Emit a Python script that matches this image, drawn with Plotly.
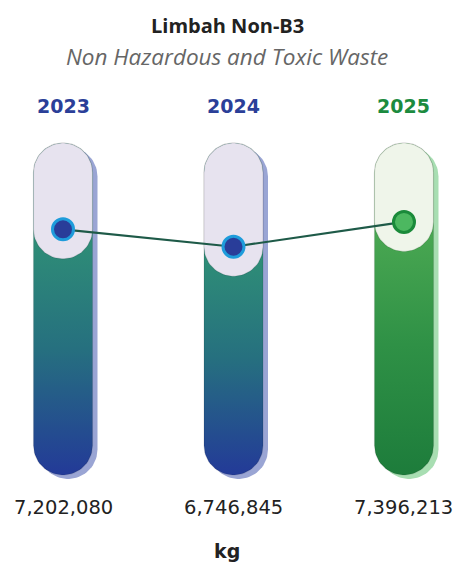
import numpy as np
import plotly.graph_objects as go

# ---------------- data ----------------
years = ["2023", "2024", "2025"]
values = [7202080, 6746845, 7396213]
year_colors = ["#2B3F98", "#2B3F98", "#1C8B3F"]
title = "Limbah Non-B3"
subtitle = "Non Hazardous and Toxic Waste"
unit = "kg"

# ---------------- layout geometry (pixels) ----------------
W, H = 454, 563
X_RANGE = [-0.3695, 2.2933]
Y_RANGE = [-1.5212e6, 13.1978e6]

def x2px(x):
    return (x - X_RANGE[0]) / (X_RANGE[1] - X_RANGE[0]) * W

def px2x(p):
    return X_RANGE[0] + np.asarray(p) / W * (X_RANGE[1] - X_RANGE[0])

def y2px(y):
    return (Y_RANGE[1] - y) / (Y_RANGE[1] - Y_RANGE[0]) * H

def px2y(p):
    return Y_RANGE[1] - np.asarray(p) / H * (Y_RANGE[1] - Y_RANGE[0])

R = 29.5          # capsule half width
TOP, BOT = 143, 475

def pill(cx, top, bot, r, n=40):
    """closed pill outline in pixel coords"""
    t1 = np.linspace(np.pi, 2 * np.pi, n)   # top arc (left -> right)
    xs_top = cx + r * np.cos(t1)
    ys_top = top + r + r * np.sin(t1)
    t2 = np.linspace(0, np.pi, n)           # bottom arc (right -> left)
    xs_bot = cx + r * np.cos(t2)
    ys_bot = bot - r + r * np.sin(t2)
    xs = np.concatenate([xs_top, xs_bot, xs_top[:1]])
    ys = np.concatenate([ys_top, ys_bot, ys_top[:1]])
    return xs, ys

styles = [
    dict(shadow="#9AA5D4", light="#E7E3EF", c_top="#2E8C77", c_mid="#26707F", c_bot="#233A98",
         m_fill="#293D99", m_line="#1E9CDB"),
    dict(shadow="#9AA5D4", light="#E7E3EF", c_top="#2E8C77", c_mid="#26707F", c_bot="#233A98",
         m_fill="#293D99", m_line="#1E9CDB"),
    dict(shadow="#A8DEB2", light="#EFF5EA", c_top="#48A651", c_mid="#2F9146", c_bot="#1D7C3B",
         m_fill="#4CB860", m_line="#1A8A3A"),
]

fig = go.Figure()

for i, (yr, v) in enumerate(zip(years, values)):
    st = styles[i]
    cx = x2px(i)
    # shadow
    xs, ys = pill(cx + 5, TOP + 4, BOT + 4, R)
    fig.add_trace(go.Scatter(x=px2x(xs), y=px2y(ys), mode="lines", fill="toself",
                             fillcolor=st["shadow"], line=dict(width=0),
                             hoverinfo="skip", showlegend=False))
    # coloured body with gradient
    xs, ys = pill(cx, TOP, BOT, R)
    fig.add_trace(go.Scatter(
        x=px2x(xs), y=px2y(ys), mode="lines", fill="toself",
        fillgradient=dict(type="vertical",
                          colorscale=[[0, st["c_bot"]], [0.55, st["c_mid"]], [1, st["c_top"]]],
                          start=float(px2y(BOT)), stop=float(px2y(y2px(v) + 15))),
        line=dict(width=1.2, color="rgba(0,0,0,0.10)"),
        hoverinfo="skip", showlegend=False))
    # light upper part ending with a round bottom around the value
    xs, ys = pill(cx, TOP, y2px(v) + R, R)
    fig.add_trace(go.Scatter(x=px2x(xs), y=px2y(ys), mode="lines", fill="toself",
                             fillcolor=st["light"], line=dict(width=1.2, color="rgba(0,0,0,0.10)"),
                             hoverinfo="skip", showlegend=False))

# connecting line
fig.add_trace(go.Scatter(x=list(range(len(years))), y=values, mode="lines",
                         line=dict(color="#1E5A48", width=2.2), hoverinfo="skip",
                         showlegend=False))
# markers
fig.add_trace(go.Scatter(
    x=list(range(len(years))), y=values, mode="markers",
    marker=dict(size=21, color=[s["m_fill"] for s in styles],
                line=dict(color=[s["m_line"] for s in styles], width=3)),
    text=[f"{v:,}" for v in values], hovertemplate="%{text} kg<extra></extra>",
    showlegend=False))

annotations = [
    dict(text=f"<b>{title}</b>", x=0.5, y=1 - 26 / H, xref="paper", yref="paper",
         xanchor="center", yanchor="middle", showarrow=False,
         font=dict(family="Open Sans", size=20, color="#222222")),
    dict(text=f"<i>{subtitle}</i>", x=0.5, y=1 - 56 / H, xref="paper", yref="paper",
         xanchor="center", yanchor="middle", showarrow=False,
         font=dict(family="Open Sans", size=22.5, color="#666666")),
    dict(text=f"<b>{unit}</b>", x=0.5, y=1 - 551 / H, xref="paper", yref="paper",
         xanchor="center", yanchor="middle", showarrow=False,
         font=dict(family="DejaVu Sans", size=19, color="#222222")),
]
for i, (yr, v) in enumerate(zip(years, values)):
    annotations.append(dict(text=f"<b>{yr}</b>", x=i, y=1 - 106 / H, xref="x", yref="paper",
                            xanchor="center", yanchor="middle", showarrow=False,
                            font=dict(family="DejaVu Sans", size=19, color=year_colors[i])))
    annotations.append(dict(text=f"{v:,}", x=i, y=1 - 507 / H, xref="x", yref="paper",
                            xanchor="center", yanchor="middle", showarrow=False,
                            font=dict(family="DejaVu Sans", size=19.5, color="#222222")))

fig.update_layout(
    width=W, height=H, margin=dict(l=0, r=0, t=0, b=0),
    paper_bgcolor="white", plot_bgcolor="white",
    xaxis=dict(range=X_RANGE, visible=False, fixedrange=True),
    yaxis=dict(range=Y_RANGE, visible=False, fixedrange=True),
    annotations=annotations,
)

fig.write_html("out.html")
